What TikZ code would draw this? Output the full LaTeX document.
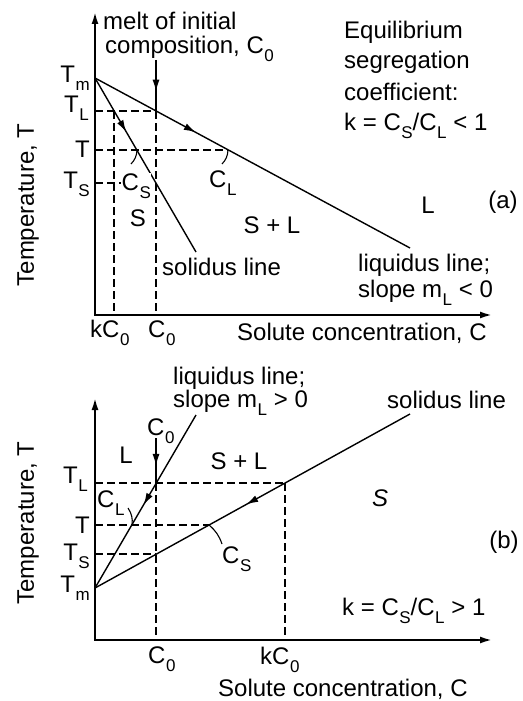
\documentclass[tikz,border=0pt]{standalone}
\usepackage{fontspec}
\setmainfont{Liberation Sans}
\usetikzlibrary{arrows.meta,decorations.markings}
\newcommand{\sbs}[1]{\kern0.5pt\raisebox{-8.5pt}{\fontsize{17}{17}\selectfont #1}}
\begin{document}
\begin{tikzpicture}[x=1pt,y=-1pt,
  lbl/.style={inner sep=0pt, font=\fontsize{24}{26}\selectfont},
  axis/.style={line width=2pt, {Latex[length=12pt,width=7pt]}-{Latex[length=12pt,width=7pt]}},
  curve/.style={line width=1.4pt},
  guide/.style={line width=1.6pt, dash pattern=on 8pt off 4pt},
  leader/.style={line width=1.1pt},
  midarrow/.style={postaction={decorate, decoration={markings, mark=at position #1 with {\arrow{Latex[length=12pt,width=7pt]}}}}},
]
\fill[white] (0,0) rectangle (522,701);
\useasboundingbox (0,0) rectangle (522,701);

% ---------------- (a) ----------------
\coordinate (Oa) at (95,315);
\coordinate (Ya) at (95,12);
\coordinate (Xa) at (492,315);
\coordinate (Tma) at (95,78);
\coordinate (Lend) at (410,248);
\coordinate (Send) at (196,252);
\coordinate (TLa) at (95,111);
\coordinate (TLaC) at (156,111);
\coordinate (TLak) at (114,111);
\coordinate (Ta) at (95,150);
\coordinate (TaL) at (228,150);
\coordinate (TaS) at (137,150);
\coordinate (TSa) at (95,183);
\coordinate (TSaC) at (156,183);
\coordinate (kCa) at (114,315);
\coordinate (C0a) at (156,315);
\coordinate (arrA) at (156,60);
\coordinate (CSa) at (131,164);
\coordinate (CLa) at (222,164);

\draw[guide] (TLa) -- (TLaC);
\draw[guide] (Ta) -- (TaL);
\draw[guide] (TSa) -- (TSaC);
\draw[guide] (TLak) -- (kCa);
\draw[guide] (TLaC) -- (C0a);
\draw[axis] (Ya) -- (Oa) -- (Xa);
\draw[curve, midarrow=0.32] (Tma) -- (Lend);
\draw[curve, midarrow=0.31] (Tma) -- (Send);
\draw[curve, midarrow=0.62] (arrA) -- (TLaC);
\draw[leader] (TaS) to[bend left=20] (CSa);
\draw[leader] (TaL) to[bend left=20] (CLa);

\node[lbl, anchor=base east] (tma) at (90,82) {T\sbs{m}};
\node[lbl, anchor=base east] (tla) at (89,112) {T\sbs{L}};
\node[lbl, anchor=base east] (ta) at (90,157) {T};
\node[lbl, anchor=base east] (tsa) at (90,188) {T\sbs{S}};
\node[lbl, anchor=base west] (melt1) at (103,30) {melt of initial};
\node[lbl, anchor=base west] (melt2) at (105,53) {composition, C\sbs{0}};
\node[lbl, anchor=base west] (eq1) at (344,38) {Equilibrium};
\node[lbl, anchor=base west] (eq2) at (344,69) {segregation};
\node[lbl, anchor=base west] (eq3) at (344,100) {coefficient:};
\node[lbl, anchor=base west] (eq4) at (344,130) {k = C\sbs{S}/C\sbs{L} < 1};
\node[lbl, anchor=base west, fill=white, inner sep=0.5pt] (csa) at (121,190) {C\sbs{S}};
\node[lbl, anchor=base west] (cla) at (209,187) {C\sbs{L}};
\node[lbl] (sa) at (138,218) {S};
\node[lbl] (sla) at (272,225) {S + L};
\node[lbl] (la) at (428,205) {L};
\node[lbl] (pa) at (503,202) {(a)};
\node[lbl, anchor=base west] (sola) at (162,275) {solidus line};
\node[lbl, anchor=base west] (liqa1) at (358,271) {liquidus line;};
\node[lbl, anchor=base west] (liqa2) at (358,297) {slope m\sbs{L} < 0};
\node[lbl, anchor=base west] (kca) at (90,337) {kC\sbs{0}};
\node[lbl, anchor=base west] (c0a) at (148,337) {C\sbs{0}};
\node[lbl, anchor=base west] (xla) at (237,340) {Solute concentration, C};
\node[lbl, rotate=90] (yla) at (28,205) {Temperature, T};

% ---------------- (b) ----------------
\coordinate (Ob) at (95,640);
\coordinate (Yb) at (95,398);
\coordinate (Xb) at (492,640);
\coordinate (Tmb) at (95,588);
\coordinate (Lendb) at (196,415);
\coordinate (Sendb) at (410,414);
\coordinate (TLb) at (95,483);
\coordinate (TLbC) at (156,483);
\coordinate (TLbk) at (285,483);
\coordinate (Tb) at (95,525);
\coordinate (TbL) at (132,525);
\coordinate (TbS) at (209,525);
\coordinate (TSb) at (95,554);
\coordinate (TSbC) at (156,554);
\coordinate (C0b) at (156,640);
\coordinate (kCb) at (285,640);
\coordinate (arrB) at (156,438);
\coordinate (CLb) at (128,508);
\coordinate (CSb) at (222,544);

\draw[guide] (TLb) -- (TLbk);
\draw[guide] (Tb) -- (TbS);
\draw[guide] (TSb) -- (TSbC);
\draw[guide] (TLbC) -- (C0b);
\draw[guide] (TLbk) -- (kCb);
\draw[axis] (Yb) -- (Ob) -- (Xb);
\draw[curve, midarrow=0.52] (Lendb) -- (Tmb);
\draw[curve, midarrow=0.52] (Sendb) -- (Tmb);
\draw[curve, midarrow=0.62] (arrB) -- (TLbC);
\draw[leader] (TbL) to[bend right=20] (CLb);
\draw[leader] (TbS) to[bend left=15] (CSb);

\node[lbl, anchor=base east] (tlb) at (88,483) {T\sbs{L}};
\node[lbl, anchor=base east] (tb) at (90,533) {T};
\node[lbl, anchor=base east] (tsb) at (90,560) {T\sbs{S}};
\node[lbl, anchor=base east] (tmb) at (90,592) {T\sbs{m}};
\node[lbl, anchor=base west] (liqb1) at (173,384) {liquidus line;};
\node[lbl, anchor=base west] (liqb2) at (173,407) {slope m\sbs{L} > 0};
\node[lbl, anchor=base west] (solb) at (387,408) {solidus line};
\node[lbl, anchor=base west] (c0top) at (147,435) {C\sbs{0}};
\node[lbl] (lb) at (126,455) {L};
\node[lbl] (slb) at (239,461) {S + L};
\node[lbl, font=\fontsize{24}{26}\selectfont\itshape] (sb) at (380,498) {S};
\node[lbl] (pb) at (504,542) {(b)};
\node[lbl, anchor=base west] (clb) at (97,507) {C\sbs{L}};
\node[lbl, anchor=base west] (csb) at (222,563) {C\sbs{S}};
\node[lbl, anchor=base west] (kb) at (342,615) {k = C\sbs{S}/C\sbs{L} > 1};
\node[lbl, anchor=base west] (c0b) at (148,663) {C\sbs{0}};
\node[lbl, anchor=base west] (kcb) at (260,664) {kC\sbs{0}};
\node[lbl, anchor=base west] (xlb) at (218,696) {Solute concentration, C};
\node[lbl, rotate=90] (ylb) at (28,523) {Temperature, T};
\end{tikzpicture}
\end{document}
